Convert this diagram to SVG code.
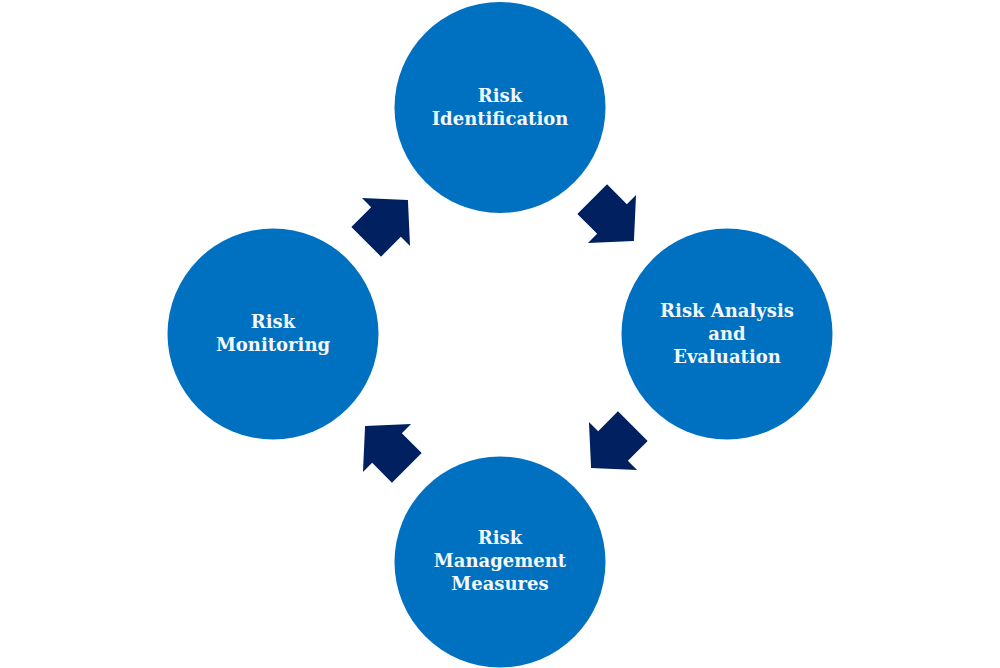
<svg xmlns="http://www.w3.org/2000/svg" width="1000" height="668" viewBox="0 0 1000 668">
<style>
.c{fill:#0070C0}
.t{font-family:"DejaVu Serif","Liberation Serif",serif;font-weight:bold;font-size:18px;fill:#F2F8FC;text-anchor:middle}
.a{fill:#002060}
</style>
<defs>
<polygon id="arr" points="-28,-21 0,-21 0,-34 31,0 0,34 0,21 -28,21"/>
</defs>
<rect width="1000" height="668" fill="#FFFFFF"/>
<g id="connectors" class="a">
<use href="#arr" transform="translate(386,222) rotate(-45)"/>
<use href="#arr" transform="translate(612,219) rotate(45)"/>
<use href="#arr" transform="translate(613,446) rotate(135)"/>
<use href="#arr" transform="translate(387,448) rotate(-135)"/>
</g>
<g id="node-identification">
<circle class="c" cx="500" cy="107.5" r="105.5"/>
<text class="t" x="500" y="102">Risk</text>
<text class="t" x="500" y="125">Identification</text>
</g>
<g id="node-analysis">
<circle class="c" cx="727" cy="334" r="105.5"/>
<text class="t" x="727" y="317">Risk Analysis</text>
<text class="t" x="727" y="340">and</text>
<text class="t" x="727" y="363">Evaluation</text>
</g>
<g id="node-measures">
<circle class="c" cx="500" cy="562" r="105.5"/>
<text class="t" x="500" y="544">Risk</text>
<text class="t" x="500" y="567">Management</text>
<text class="t" x="500" y="590">Measures</text>
</g>
<g id="node-monitoring">
<circle class="c" cx="273" cy="334" r="105.5"/>
<text class="t" x="273" y="328">Risk</text>
<text class="t" x="273" y="351">Monitoring</text>
</g>
</svg>
